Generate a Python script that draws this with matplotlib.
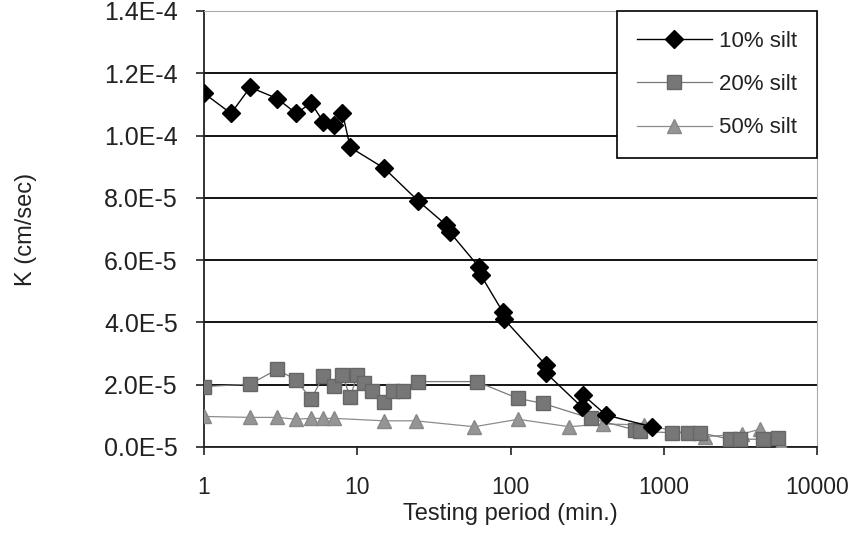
import matplotlib.pyplot as plt
from matplotlib.ticker import FixedLocator, NullLocator

plt.rcParams['font.family'] = ['Liberation Sans', 'DejaVu Sans']

# permeability vs. testing time, three silt contents
t_10 = [1, 1.5, 2, 3, 4, 5, 6, 7, 8, 9, 15, 25, 38, 40, 62, 64, 89, 91,
        170, 171, 291, 298, 419, 832]
k_10 = [1.136e-4, 1.071e-4, 1.155e-4, 1.119e-4, 1.071e-4, 1.105e-4, 1.044e-4,
        1.034e-4, 1.073e-4, 9.62e-5, 8.95e-5, 7.90e-5, 7.13e-5, 6.91e-5,
        5.79e-5, 5.52e-5, 4.34e-5, 4.10e-5, 2.63e-5, 2.37e-5, 1.29e-5,
        1.67e-5, 1.03e-5, 6.5e-6]

t_20 = [1, 2, 3, 4, 5, 6, 7, 8, 9, 10, 11, 12.5, 15, 17, 20, 25, 60, 112,
        163, 333, 650, 700, 1124, 1443, 1722, 2700, 3139, 4460, 5575]
k_20 = [1.94e-5, 2.02e-5, 2.49e-5, 2.15e-5, 1.53e-5, 2.28e-5, 1.96e-5,
        2.31e-5, 1.60e-5, 2.31e-5, 2.06e-5, 1.81e-5, 1.45e-5, 1.81e-5,
        1.81e-5, 2.10e-5, 2.10e-5, 1.56e-5, 1.40e-5, 9.2e-6, 5.5e-6, 5.0e-6,
        4.6e-6, 4.6e-6, 4.6e-6, 2.5e-6, 2.5e-6, 2.5e-6, 2.8e-6]

t_50 = [1, 2, 3, 4, 5, 6, 7, 15, 24, 58, 112, 242, 399, 742, 1854, 3265,
        4236, 5866]
k_50 = [9.8e-6, 9.5e-6, 9.5e-6, 8.9e-6, 9.2e-6, 9.2e-6, 9.2e-6, 8.4e-6,
        8.4e-6, 6.5e-6, 8.9e-6, 6.5e-6, 7.4e-6, 7.1e-6, 3.3e-6, 4.2e-6,
        5.7e-6, 1.0e-6]

y_ticks = [0, 2e-5, 4e-5, 6e-5, 8e-5, 1.0e-4, 1.2e-4, 1.4e-4]
y_tick_labels = ['0.0E-5', '2.0E-5', '4.0E-5', '6.0E-5', '8.0E-5',
                 '1.0E-4', '1.2E-4', '1.4E-4']
x_ticks = [1, 10, 100, 1000, 10000]
x_tick_labels = ['1', '10', '100', '1000', '10000']

fig = plt.figure(figsize=(8.49, 5.5), dpi=100)
ax = fig.add_axes([0.2403, 0.1873, 0.722, 0.7927])

ax.plot(t_10, k_10, color='black', lw=1.0, marker='D', ms=9,
        mfc='black', mec='black', label='10% silt', zorder=5)
ax.plot(t_20, k_20, color='#7a7a7a', lw=0.9, marker='s', ms=10,
        mfc='#777777', mec='#666666', label='20% silt', zorder=4)
ax.plot(t_50, k_50, color='#8c8c8c', lw=0.9, marker='^', ms=10,
        mfc='#959595', mec='#888888', label='50% silt', zorder=3)

ax.set_xscale('log')
ax.set_xlim(1, 10000)
ax.set_ylim(0, 1.4e-4)
ax.xaxis.set_major_locator(FixedLocator(x_ticks))
ax.xaxis.set_minor_locator(NullLocator())
ax.set_xticklabels(x_tick_labels)
ax.set_yticks(y_ticks)
ax.set_yticklabels(y_tick_labels)

ax.tick_params(axis='both', direction='out', length=6, width=1.2,
               colors='#222222')
ax.tick_params(axis='x', pad=15, labelsize=16.5)
ax.tick_params(axis='y', pad=13, labelsize=18)

ax.grid(axis='y', color='black', lw=1.3)
ax.set_axisbelow(True)
for gl in ax.get_ygridlines()[-1:]:
    gl.set_color('#aaaaaa')

for side in ['left', 'bottom']:
    ax.spines[side].set_linewidth(1.3)
    ax.spines[side].set_color('#222222')
ax.spines['top'].set_color('#aaaaaa')
ax.spines['right'].set_color('#aaaaaa')

ax.set_xlabel('Testing period (min.)', fontsize=17, color='#222222',
              labelpad=3)
ax.set_ylabel('K (cm/sec)', fontsize=17, color='#222222', labelpad=48)

leg = ax.legend(loc='upper right', bbox_to_anchor=(1.0, 1.0),
                borderaxespad=0, fancybox=False, edgecolor='black',
                fontsize=16, handlelength=3.4, labelspacing=1.0,
                borderpad=0.9, handletextpad=0.3, framealpha=1)
leg.get_frame().set_linewidth(1.2)
for txt in leg.get_texts():
    txt.set_color('#222222')

fig.savefig('out.png', dpi=100)
